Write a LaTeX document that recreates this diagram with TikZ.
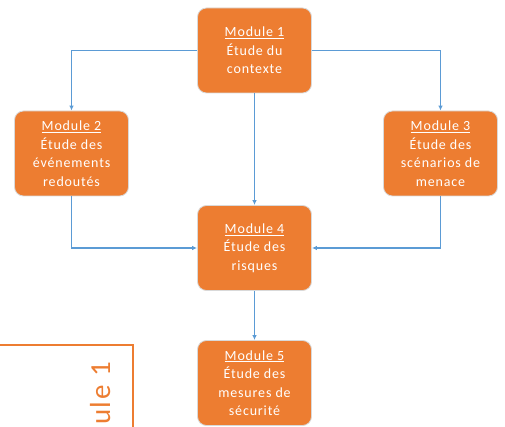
\documentclass[tikz,border=0pt]{standalone}
\usepackage{fontspec}
\setmainfont{Carlito}[LetterSpace=6]
\usetikzlibrary{arrows.meta}
\definecolor{modorange}{HTML}{ED7D31}
\definecolor{linkblue}{HTML}{5B9BD5}
\tikzset{
  module/.style={rectangle, rounded corners=9pt, fill=modorange, draw=black!15,
    line width=0.8pt, minimum width=114pt, minimum height=85pt, text=white,
    align=center, font=\fontsize{14}{18.5}\selectfont, inner sep=0pt},
  link/.style={draw=linkblue, line width=1.1pt, -{Latex[length=5pt,width=4.5pt]}},
  frameline/.style={draw=modorange, line width=2pt},
}
\begin{document}
\begin{tikzpicture}[x=1pt,y=-1pt]
\useasboundingbox (0,0) rectangle (505,427);
\clip (0,0) rectangle (505,427);

% the five modules
\node[module] (m1) at (254.5,50.5) {\underline{Module 1}\\Étude du\\contexte};
\node[module] (m2) at (71.5,153.5) {\underline{Module 2}\\Étude des\\événements\\redoutés};
\node[module] (m3) at (440.5,153.5) {\underline{Module 3}\\Étude des\\scénarios de\\menace};
\node[module] (m4) at (254.5,248) {\underline{Module 4}\\Étude des\\risques};
\node[module] (m5) at (254.5,383) {\underline{Module 5}\\Étude des\\mesures de\\sécurité};

% flow between modules
\draw[link] (m1.west) -| (m2.north);
\draw[link] (m1.east) -| (m3.north);
\draw[link] (m1.south) -- (m4.north);
\draw[link] (m2.south) |- (m4.west);
\draw[link] (m3.south) |- (m4.east);
\draw[link] (m4.south) -- (m5.north);

% partial frame with its vertical title
\coordinate (fa) at (-5,345);
\coordinate (fc) at (133,345);
\coordinate (fb) at (133,435);
\draw[frameline] (fa) -- (fc) -- (fb);
\node[rotate=90, anchor=base east, text=modorange, inner sep=0pt,
  font=\fontsize{29}{30}\selectfont] (side) at (110,362) {ule 1};
\end{tikzpicture}
\end{document}
